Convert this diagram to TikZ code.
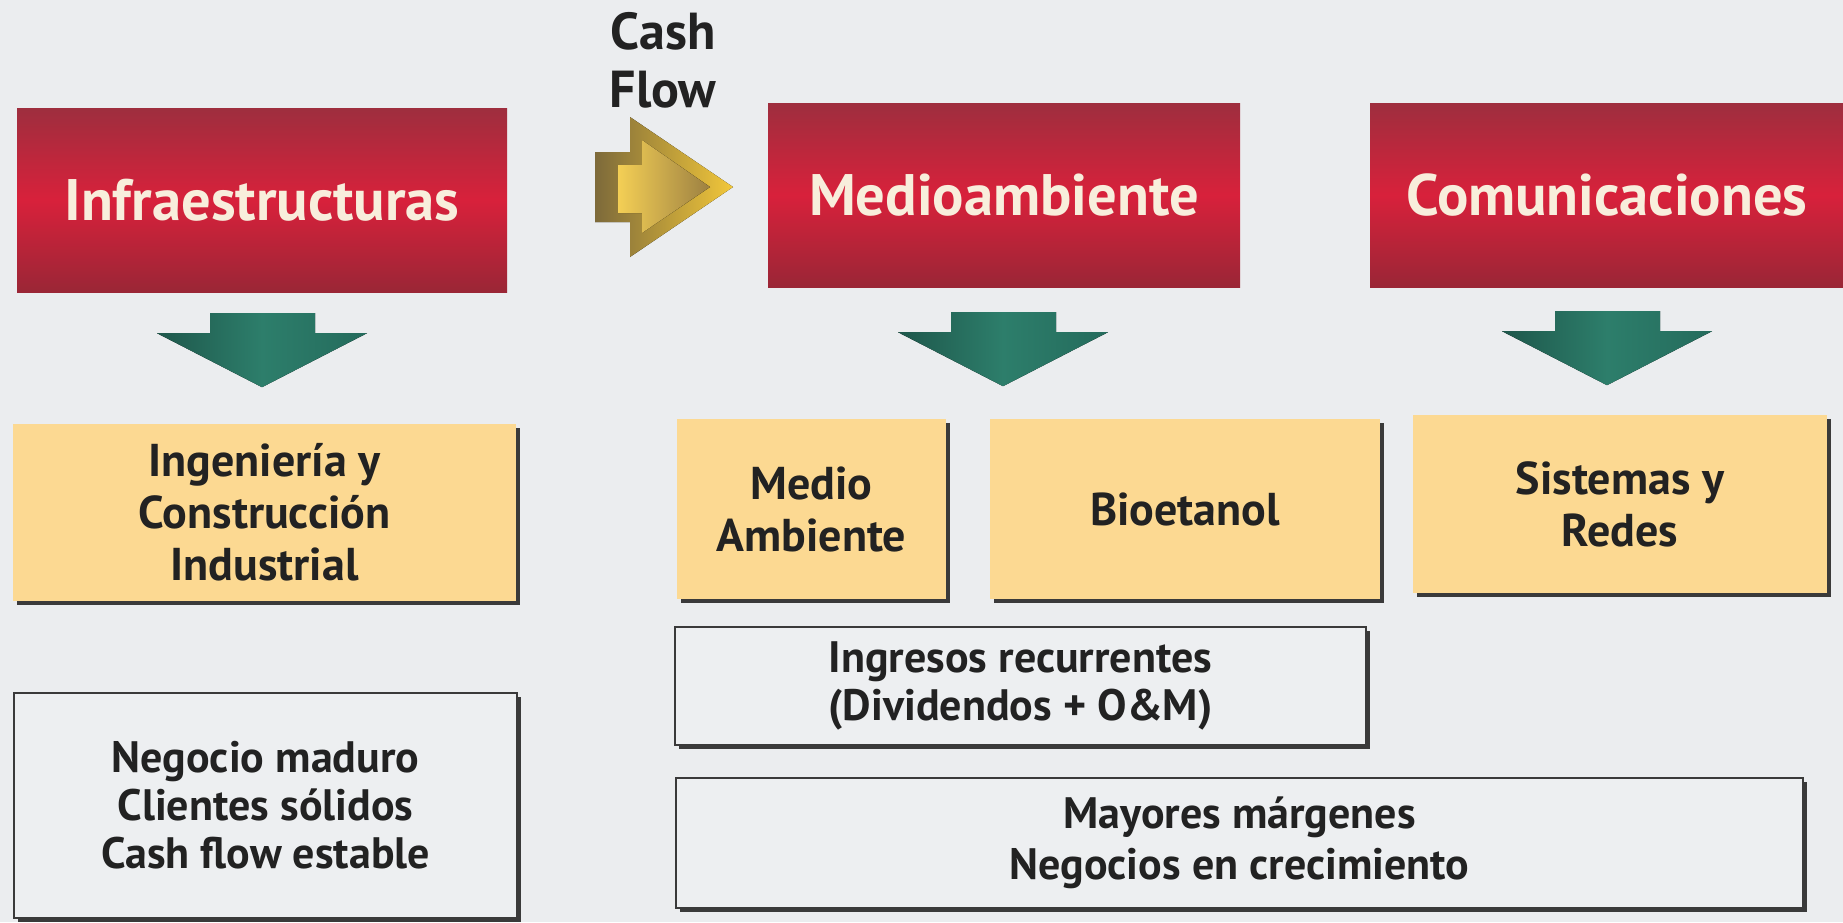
\documentclass[tikz,border=0pt]{standalone}
\usepackage{fontspec}
\setmainfont{PT Sans}
\usetikzlibrary{calc,shadows}
\definecolor{bgc}{HTML}{EBEDEF}
\definecolor{redA}{HTML}{9E2E3E}
\definecolor{redM}{HTML}{D8213B}
\definecolor{redB}{HTML}{9A2636}
\definecolor{cream}{HTML}{F8EEDC}
\definecolor{yfill}{HTML}{FCD992}
\definecolor{wfill}{HTML}{EDEFF1}
\definecolor{ink}{HTML}{222222}
\definecolor{shad}{HTML}{3A3A3A}
\definecolor{gA}{HTML}{1E574B}
\definecolor{gB}{HTML}{2D7E6B}
\definecolor{gC}{HTML}{246B5C}
\definecolor{goldA}{HTML}{7D6A3A}
\definecolor{goldB}{HTML}{F2C73A}
\definecolor{goldC}{HTML}{F4CF55}
\definecolor{goldD}{HTML}{9C8042}
\newcommand\ttlfont{\fontsize{58.5}{64}\selectfont\bfseries}
\newcommand\ybxfont{\fontsize{46}{52}\selectfont\bfseries}
\newcommand\wbxfont{\fontsize{44}{48}\selectfont\bfseries}
\newcommand\cffont{\fontsize{52}{58}\selectfont\bfseries}
\begin{document}
\begin{tikzpicture}[x=1pt,y=-1pt,
  redbox/.style={inner sep=0pt, top color=redA, bottom color=redB, middle color=redM, text=cream, font=\ttlfont},
  ybox/.style={inner sep=0pt, fill=yfill, text=ink, align=center, font=\ybxfont,
    drop shadow={shadow xshift=4pt, shadow yshift=-4pt, fill=shad, opacity=1}},
  wbox/.style={inner sep=0pt, fill=wfill, draw=shad, line width=2pt, text=ink, align=center, font=\wbxfont,
    drop shadow={shadow xshift=4pt, shadow yshift=-4pt, fill=shad, opacity=1}},
  garrow/.pic={\fill[left color=gA, right color=gC, middle color=gB]
    (-52,0) -- (53,0) -- (53,20) -- (105,20) -- (0,74) -- (-105,20) -- (-52,20) -- cycle;},
  cfarrow/.pic={
    \fill[left color=goldA, right color=goldB]
      (0,-35) -- (35,-35) -- (35,-70) -- (138,0) -- (35,70) -- (35,35) -- (0,35) -- cycle;
    \fill[left color=goldC, right color=goldD]
      (23,-22) -- (47,-22) -- (47,-47) -- (115,0) -- (47,46) -- (47,26) -- (23,26) -- cycle;}
]
\useasboundingbox (0,0) rectangle (1843,922);
\fill[bgc] (0,0) rectangle (1843,922);

% red headers
\node[redbox, minimum width=490pt, minimum height=184pt] (infra) at (262,200) {Infraestructuras};
\node[redbox, minimum width=472pt, minimum height=184pt] (medio) at (1004,195) {Medioambiente};
\node[redbox, minimum width=474pt, minimum height=184pt] (comm) at (1607,195) {Comunicaciones};

% cash flow
\node[font=\cffont, text=ink, align=center, inner sep=0pt] (cash) at (663,60) {Cash\\Flow};
\coordinate (cf) at (595,187);
\pic at (cf) {cfarrow};

% green arrows
\pic at ($(infra.south)+(0,21)$) {garrow};
\pic at ($(medio.south)+(-1,25)$) {garrow};
\pic at ($(comm.south)+(0,24)$) {garrow};

% yellow boxes
\node[ybox, minimum width=503pt, minimum height=177pt] (ing) at (264.5,512.5) {Ingeniería y\\Construcción\\Industrial};
\node[ybox, minimum width=269pt, minimum height=180pt] (ma) at (811.5,509) {Medio\\Ambiente};
\node[ybox, minimum width=390pt, minimum height=180pt] (bio) at (1185,509) {Bioetanol};
\node[ybox, minimum width=414pt, minimum height=178pt] (sis) at (1620,504) {Sistemas y\\Redes};

% white boxes
\node[wbox, minimum width=503pt, minimum height=225pt] (neg) at (265.5,805.5) {Negocio maduro\\Clientes sólidos\\Cash flow estable};
\node[wbox, minimum width=691pt, minimum height=118pt] (ingr) at (1020.5,686) {Ingresos recurrentes\\(Dividendos + O\&M)};
\node[wbox, minimum width=1127pt, minimum height=130pt, font=\fontsize{44}{51}\selectfont\bfseries] (may) at (1239.5,843) {Mayores márgenes\\Negocios en crecimiento};
\end{tikzpicture}
\end{document}
